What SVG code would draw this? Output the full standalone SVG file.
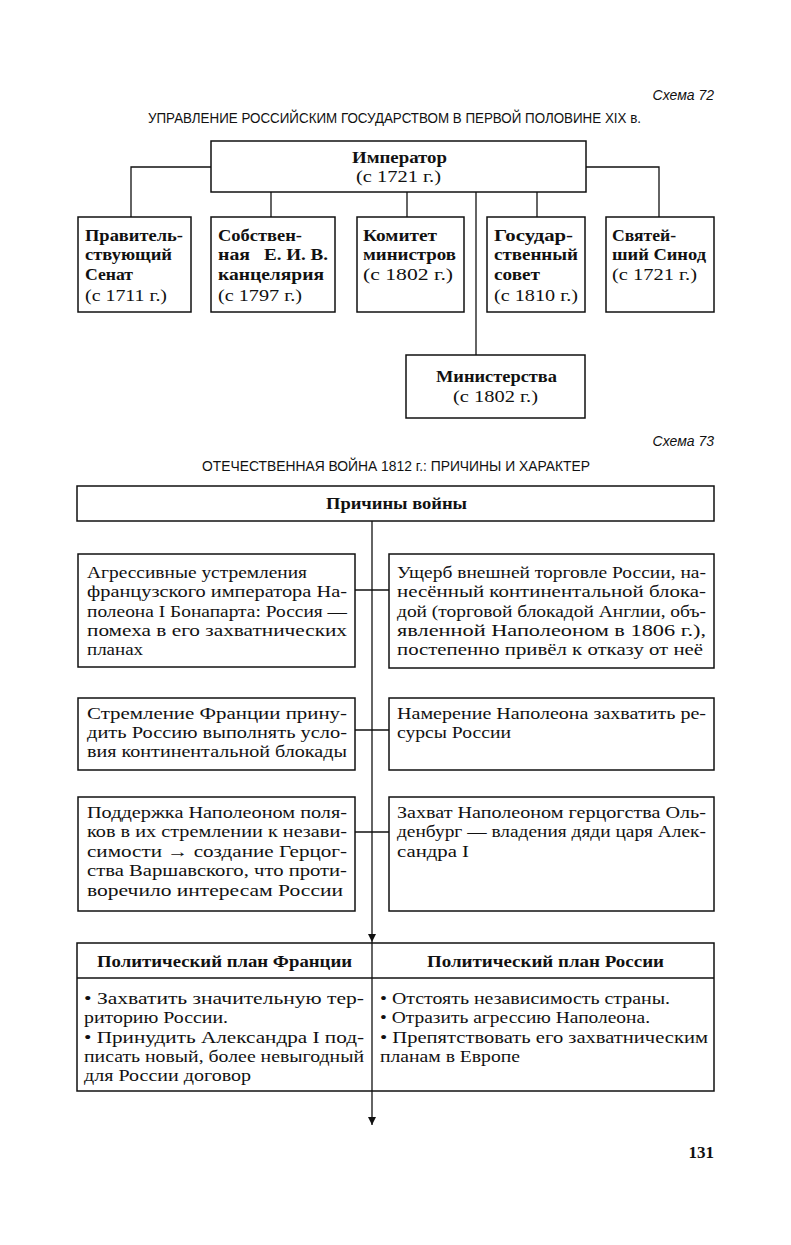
<svg xmlns="http://www.w3.org/2000/svg" width="791" height="1245" viewBox="0 0 791 1245">
<defs>
<marker id="arr" viewBox="0 0 10 10" refX="10" refY="5" markerWidth="12" markerHeight="8" markerUnits="userSpaceOnUse" orient="auto"><path d="M0,0 L10,5 L0,10 z" fill="#111"/></marker>
<style>
.bx{fill:#fff;stroke:#111;stroke-width:1.5}
.ln{fill:none;stroke:#111;stroke-width:1.3}
.t{font-family:"Liberation Serif","DejaVu Serif",serif;font-size:16px;fill:#111}
.b{font-family:"Liberation Serif","DejaVu Serif",serif;font-size:16px;font-weight:bold;fill:#111}
.s{font-family:"Liberation Sans Narrow","Liberation Sans",sans-serif;font-size:14px;fill:#111}
.i{font-family:"Liberation Sans Narrow","Liberation Sans",sans-serif;font-size:14px;font-style:italic;fill:#111}
.p{font-family:"Liberation Serif",serif;font-size:17px;font-weight:bold;fill:#111}
</style>
</defs>
<rect width="791" height="1245" fill="#fff"/>

<text class="i" x="714" y="100" text-anchor="end">Схема 72</text>
<text class="s" x="148" y="123" textLength="493" lengthAdjust="spacingAndGlyphs">УПРАВЛЕНИЕ РОССИЙСКИМ ГОСУДАРСТВОМ В ПЕРВОЙ ПОЛОВИНЕ XIX в.</text>

<g id="connectors72">
<path class="ln" d="M211,167 H131 V217"/>
<path class="ln" d="M586,167 H659 V217"/>
<path class="ln" d="M271,192 V217"/>
<path class="ln" d="M407,192 V217"/>
<path class="ln" d="M537,192 V217"/>
<path class="ln" d="M476,192 V355"/>
</g>

<g id="emperor">
<rect class="bx" x="211" y="141" width="375" height="51"/>
<text class="b" x="352" y="163" textLength="95" lengthAdjust="spacingAndGlyphs">Император</text>
<text class="t" x="356" y="182" textLength="85" lengthAdjust="spacingAndGlyphs">(с 1721 г.)</text>
</g>

<g id="senate">
<rect class="bx" x="78" y="217" width="113" height="95"/>
<text class="b" x="85" y="241" textLength="98" lengthAdjust="spacingAndGlyphs">Правитель-</text>
<text class="b" x="85" y="260" textLength="87" lengthAdjust="spacingAndGlyphs">ствующий</text>
<text class="b" x="85" y="280" textLength="48" lengthAdjust="spacingAndGlyphs">Сенат</text>
<text class="t" x="85" y="301" textLength="82" lengthAdjust="spacingAndGlyphs">(с 1711 г.)</text>
</g>

<g id="chancellery">
<rect class="bx" x="211" y="217" width="124" height="95"/>
<text class="b" x="218" y="241" textLength="84" lengthAdjust="spacingAndGlyphs">Собствен-</text>
<text class="b" x="218" y="260" textLength="32" lengthAdjust="spacingAndGlyphs">ная</text>
<text class="b" x="264" y="260" textLength="64" lengthAdjust="spacingAndGlyphs">Е. И. В.</text>
<text class="b" x="218" y="280" textLength="106" lengthAdjust="spacingAndGlyphs">канцелярия</text>
<text class="t" x="218" y="301" textLength="84" lengthAdjust="spacingAndGlyphs">(с 1797 г.)</text>
</g>

<g id="committee">
<rect class="bx" x="357" y="217" width="107" height="95"/>
<text class="b" x="363" y="241" textLength="74" lengthAdjust="spacingAndGlyphs">Комитет</text>
<text class="b" x="363" y="260" textLength="93" lengthAdjust="spacingAndGlyphs">министров</text>
<text class="t" x="363" y="280" textLength="90" lengthAdjust="spacingAndGlyphs">(с  1802 г.)</text>
</g>

<g id="council">
<rect class="bx" x="487" y="217" width="98" height="95"/>
<text class="b" x="494" y="241" textLength="79" lengthAdjust="spacingAndGlyphs">Государ-</text>
<text class="b" x="494" y="260" textLength="84" lengthAdjust="spacingAndGlyphs">ственный</text>
<text class="b" x="494" y="280" textLength="46" lengthAdjust="spacingAndGlyphs">совет</text>
<text class="t" x="494" y="301" textLength="84" lengthAdjust="spacingAndGlyphs">(с 1810 г.)</text>
</g>

<g id="synod">
<rect class="bx" x="606" y="217" width="108" height="95"/>
<text class="b" x="612" y="241" textLength="64" lengthAdjust="spacingAndGlyphs">Святей-</text>
<text class="b" x="612" y="260" textLength="94" lengthAdjust="spacingAndGlyphs">ший Синод</text>
<text class="t" x="612" y="280" textLength="85" lengthAdjust="spacingAndGlyphs">(с 1721 г.)</text>
</g>

<g id="ministries">
<rect class="bx" x="406" y="355" width="179" height="63"/>
<text class="b" x="436" y="382" textLength="121" lengthAdjust="spacingAndGlyphs">Министерства</text>
<text class="t" x="453" y="402" textLength="85" lengthAdjust="spacingAndGlyphs">(с 1802 г.)</text>
</g>

<text class="i" x="714" y="446" text-anchor="end">Схема 73</text>
<text class="s" x="202" y="471" textLength="388" lengthAdjust="spacingAndGlyphs">ОТЕЧЕСТВЕННАЯ ВОЙНА 1812 г.: ПРИЧИНЫ И ХАРАКТЕР</text>

<g id="causes">
<rect class="bx" x="77" y="486" width="637" height="35"/>
<text class="b" x="326" y="509" textLength="141" lengthAdjust="spacingAndGlyphs">Причины войны</text>
</g>

<g id="cause1">
<rect class="bx" x="78" y="554" width="277" height="113"/>
<text class="t" x="87" y="578" textLength="220" lengthAdjust="spacingAndGlyphs">Агрессивные устремления</text>
<text class="t" x="87" y="597" textLength="260" lengthAdjust="spacingAndGlyphs">французского императора На-</text>
<text class="t" x="87" y="617" textLength="260" lengthAdjust="spacingAndGlyphs">полеона I Бонапарта: Россия —</text>
<text class="t" x="87" y="636" textLength="260" lengthAdjust="spacingAndGlyphs">помеха в его захватнических</text>
<text class="t" x="87" y="655" textLength="56" lengthAdjust="spacingAndGlyphs">планах</text>
</g>

<g id="cause2">
<rect class="bx" x="389" y="554" width="325" height="114"/>
<text class="t" x="397" y="578" textLength="309" lengthAdjust="spacingAndGlyphs">Ущерб внешней торговле России, на-</text>
<text class="t" x="397" y="597" textLength="309" lengthAdjust="spacingAndGlyphs">несённый континентальной блока-</text>
<text class="t" x="397" y="617" textLength="309" lengthAdjust="spacingAndGlyphs">дой (торговой блокадой Англии, объ-</text>
<text class="t" x="397" y="636" textLength="309" lengthAdjust="spacingAndGlyphs">явленной Наполеоном в 1806 г.),</text>
<text class="t" x="397" y="655" textLength="306" lengthAdjust="spacingAndGlyphs">постепенно привёл к отказу от неё</text>
</g>

<g id="cause3">
<rect class="bx" x="78" y="698" width="277" height="72"/>
<text class="t" x="87" y="719" textLength="260" lengthAdjust="spacingAndGlyphs">Стремление Франции прину-</text>
<text class="t" x="87" y="738" textLength="260" lengthAdjust="spacingAndGlyphs">дить Россию выполнять усло-</text>
<text class="t" x="87" y="757" textLength="260" lengthAdjust="spacingAndGlyphs">вия континентальной блокады</text>
</g>

<g id="cause4">
<rect class="bx" x="389" y="698" width="325" height="72"/>
<text class="t" x="397" y="719" textLength="309" lengthAdjust="spacingAndGlyphs">Намерение Наполеона захватить ре-</text>
<text class="t" x="397" y="738" textLength="114" lengthAdjust="spacingAndGlyphs">сурсы России</text>
</g>

<g id="cause5">
<rect class="bx" x="78" y="797" width="277" height="114"/>
<text class="t" x="87" y="818" textLength="260" lengthAdjust="spacingAndGlyphs">Поддержка Наполеоном поля-</text>
<text class="t" x="87" y="837" textLength="260" lengthAdjust="spacingAndGlyphs">ков в их стремлении к незави-</text>
<text class="t" x="87" y="857" textLength="260" lengthAdjust="spacingAndGlyphs">симости → создание Герцог-</text>
<text class="t" x="87" y="876" textLength="260" lengthAdjust="spacingAndGlyphs">ства Варшавского, что проти-</text>
<text class="t" x="87" y="896" textLength="256" lengthAdjust="spacingAndGlyphs">воречило интересам России</text>
</g>

<g id="cause6">
<rect class="bx" x="389" y="797" width="325" height="114"/>
<text class="t" x="397" y="818" textLength="309" lengthAdjust="spacingAndGlyphs">Захват Наполеоном герцогства Оль-</text>
<text class="t" x="397" y="837" textLength="309" lengthAdjust="spacingAndGlyphs">денбург — владения дяди царя Алек-</text>
<text class="t" x="397" y="857" textLength="72" lengthAdjust="spacingAndGlyphs">сандра I</text>
</g>

<g id="plans">
<rect class="bx" x="77" y="943" width="637" height="148"/>
<path class="ln" d="M77,978 H714"/>
<text class="b" x="97" y="967" textLength="255" lengthAdjust="spacingAndGlyphs">Политический план Франции</text>
<text class="b" x="427" y="967" textLength="237" lengthAdjust="spacingAndGlyphs">Политический план России</text>
<text class="t" x="84" y="1004" textLength="280" lengthAdjust="spacingAndGlyphs">• Захватить значительную тер-</text>
<text class="t" x="84" y="1023" textLength="144" lengthAdjust="spacingAndGlyphs">риторию России.</text>
<text class="t" x="84" y="1043" textLength="280" lengthAdjust="spacingAndGlyphs">• Принудить Александра I под-</text>
<text class="t" x="84" y="1062" textLength="280" lengthAdjust="spacingAndGlyphs">писать новый, более невыгодный</text>
<text class="t" x="84" y="1081" textLength="167" lengthAdjust="spacingAndGlyphs">для России договор</text>
<text class="t" x="380" y="1004" textLength="290" lengthAdjust="spacingAndGlyphs">• Отстоять независимость страны.</text>
<text class="t" x="380" y="1023" textLength="270" lengthAdjust="spacingAndGlyphs">• Отразить агрессию Наполеона.</text>
<text class="t" x="380" y="1043" textLength="328" lengthAdjust="spacingAndGlyphs">• Препятствовать его захватническим</text>
<text class="t" x="380" y="1062" textLength="140" lengthAdjust="spacingAndGlyphs">планам в Европе</text>
</g>

<g id="connectors73">
<path class="ln" d="M372,521 V942" marker-end="url(#arr)"/>
<path class="ln" d="M372,942 V1125" marker-end="url(#arr)"/>
<path class="ln" d="M355,590 H389"/>
<path class="ln" d="M355,730 H389"/>
<path class="ln" d="M355,832 H389"/>
</g>

<text class="p" x="714" y="1158" text-anchor="end">131</text>
</svg>
